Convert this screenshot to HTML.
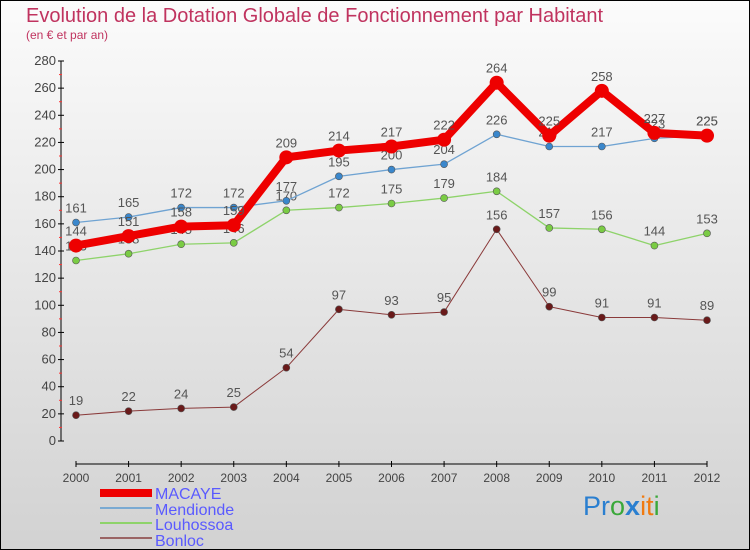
<!DOCTYPE html>
<html><head><meta charset="utf-8"><style>
body{margin:0}
#c{width:750px;height:550px;position:relative;overflow:hidden;background:linear-gradient(#fbfbfb,#d2d2d2);box-sizing:border-box;border:1px solid #000;font-family:"Liberation Sans",sans-serif}
</style></head><body>
<div id="c">
<svg id="s" width="750" height="550" style="position:absolute;left:-1px;top:-1px" font-family="Liberation Sans, sans-serif">
<text x="26" y="22" font-size="20" fill="#c0335f">Evolution de la Dotation Globale de Fonctionnement par Habitant</text>
<text x="26" y="39" font-size="12" fill="#c0335f">(en € et par an)</text>
<g id="ax"></g><g id="series"></g>
<g>
<rect x="100" y="489" width="52" height="8" fill="#e00"/>
<text x="155" y="499" font-size="16" fill="#5a5aff">MACAYE</text>
<rect x="100" y="507" width="52" height="2" fill="#7aaad2"/>
<text x="155" y="515" font-size="16" fill="#5a5aff">Mendionde</text>
<rect x="100" y="522" width="52" height="2" fill="#8ed36a"/>
<text x="155" y="530" font-size="16" fill="#5a5aff">Louhossoa</text>
<rect x="100" y="537" width="52" height="2" fill="#9a6464"/>
<text x="155" y="546" font-size="16" fill="#5a5aff">Bonloc</text>
</g>
<text x="583" y="515" font-size="27"><tspan fill="#2a7fd0">Pr</tspan><tspan fill="#3aa83a">o</tspan><tspan fill="#2a7fd0" font-weight="bold">x</tspan><tspan fill="#f07a10">it</tspan><tspan fill="#3aa83a">i</tspan></text>
</svg>
</div>
<script>
const years=["2000","2001","2002","2003","2004","2005","2006","2007","2008","2009","2010","2011","2012"];
const yTicks=[0,20,40,60,80,100,120,140,160,180,200,220,240,260,280];
const macaye=[144,151,158,159,209,214,217,222,264,225,258,227,225];
const mendionde=[161,165,172,172,177,195,200,204,226,217,217,223,225];
const louhossoa=[133,138,145,146,170,172,175,179,184,157,156,144,153];
const bonloc=[19,22,24,25,54,97,93,95,156,99,91,91,89];
const NS="http://www.w3.org/2000/svg";
const X=i=>76+i*(707-76)/(years.length-1);
const Y=v=>441-v*(441-61)/280;
function mk(t,a,p){const e=document.createElementNS(NS,t);for(const k in a)e.setAttribute(k,a[k]);p.appendChild(e);return e;}
const ax=document.getElementById('ax');
let yl=mk('line',{x1:61,y1:Y(280),x2:61,y2:Y(0),stroke:'#000'},ax);


yTicks.forEach((v,i)=>{
 mk('line',{x1:58,x2:64,y1:Y(v),y2:Y(v),stroke:'#000'},ax);
 if(i<yTicks.length-1)mk('line',{x1:59,x2:62,y1:Y(v+10),y2:Y(v+10),stroke:'#f33'},ax);
 const t=mk('text',{x:56,y:Y(v)+4,'font-size':13,fill:'#444','text-anchor':'end'},ax);t.textContent=v;
 
 
});
let xl=mk('line',{x1:X(0),y1:464,x2:X(12),y2:464,stroke:'#000'},ax);


years.forEach((y,i)=>{
 mk('line',{x1:X(i),x2:X(i),y1:461,y2:467,stroke:'#000'},ax);
 const t=mk('text',{x:X(i),y:482,'font-size':12,fill:'#444','text-anchor':'middle'},ax);t.textContent=y;
 
 
});
const sg=document.getElementById('series');
function series(name,d,color,w,r,dot){
 const g=mk('g',{},sg);
 
 
 const p=mk('polyline',{points:d.map((v,i)=>X(i)+','+Y(v)).join(' '),fill:'none',stroke:color,'stroke-width':w,'stroke-linejoin':'round'},g);
 
 
 d.forEach((v,i)=>{
  const c=mk('circle',{cx:X(i),cy:Y(v),r:r,fill:dot,stroke:'#555','stroke-width':w>4?0:0.6},g);
  
  
  const t=mk('text',{x:X(i),y:Y(v)-10,'font-size':13,fill:'#555','text-anchor':'middle'},g);t.textContent=v;
  
  
 });
}
series('bonloc',bonloc,'#8a3a3a',1,3.5,'#6a1a1a');
series('louhossoa',louhossoa,'#8ed36a',1.3,3.5,'#7acc44');
series('mendionde',mendionde,'#6fa3d2',1.3,3.5,'#3a87cc');
series('macaye',macaye,'#ee0000',8,7,'#ee0000');
</script>
</body></html>
